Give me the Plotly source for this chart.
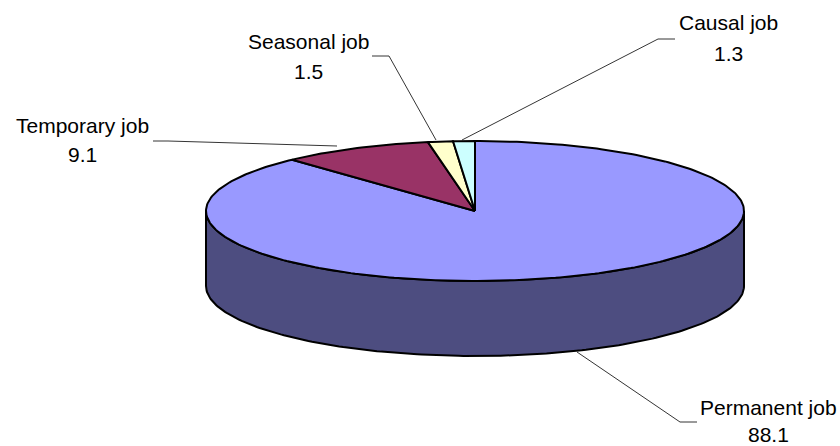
import math
import plotly.graph_objects as go

categories = ["Permanent job", "Temporary job", "Seasonal job", "Causal job"]
values = [88.1, 9.1, 1.5, 1.3]
value_labels = ["88.1", "9.1", "1.5", "1.3"]
colors = ["#9999FF", "#993366", "#FFFFCC", "#CCFFFF"]
side_color = "#4D4D80"

# pie geometry (pixels in an 840x446 canvas)
CX, CY, RX, RY, DEPTH = 475, 211, 269, 70, 75
FONT = dict(family="Liberation Sans, Arial, sans-serif", size=21, color="#000000")

# label placement: text centre x, first line y, second line y
label_x = [768, 82, 308, 728]
label_y1 = [407, 125, 41, 22]
label_y2 = [434, 154, 71, 53]
# leader lines: end beside the text, knee, end on the pie
leader_end = [(697, 422), (153, 141), (372, 56), (675, 39)]
leader_knee = [(680, 422), (168, 141), (389, 56), (658, 39)]
leader_tip = [(577, 352), (337, 146), (436, 140), (462, 140)]


def arc(a0, a1, dy=0.0, step=1.0):
    n = max(2, int(abs(a1 - a0) / step) + 1)
    xs, ys = [], []
    for i in range(n + 1):
        t = math.radians(a0 + (a1 - a0) * i / n)
        xs.append(CX + RX * math.sin(t))
        ys.append(CY - RY * math.cos(t) + dy)
    return xs, ys


fig = go.Figure()

# side wall (front half of the rim)
x1, y1 = arc(90, 270)
x2, y2 = arc(270, 90, dy=DEPTH)
fig.add_trace(go.Scatter(
    x=x1 + x2 + [x1[0]], y=y1 + y2 + [y1[0]], mode="lines", fill="toself",
    fillcolor=side_color, line=dict(color="#000000", width=2), hoverinfo="skip",
))

# top face slices, clockwise from 12 o'clock
total = sum(values)
start = 0.0
for cat, val, col in zip(categories, values, colors):
    end = start + 360.0 * val / total
    xs, ys = arc(start, end)
    fig.add_trace(go.Scatter(
        x=[CX] + xs + [CX], y=[CY] + ys + [CY], mode="lines", fill="toself",
        fillcolor=col, line=dict(color="#000000", width=2),
        name=cat, hoverinfo="name",
    ))
    start = end

# leader lines
for e, k, t in zip(leader_end, leader_knee, leader_tip):
    fig.add_trace(go.Scatter(
        x=[e[0], k[0], t[0]], y=[e[1], k[1], t[1]], mode="lines",
        line=dict(color="#000000", width=0.8), hoverinfo="skip",
    ))

# labels
annotations = []
for cat, vl, x, y1_, y2_ in zip(categories, value_labels, label_x, label_y1, label_y2):
    for txt, y in ((cat, y1_), (vl, y2_)):
        annotations.append(dict(
            x=x, y=y, xref="x", yref="y", text=txt, showarrow=False,
            xanchor="center", yanchor="middle", font=FONT,
        ))

fig.update_layout(
    width=840, height=446, margin=dict(l=0, r=0, t=0, b=0),
    paper_bgcolor="#FFFFFF", plot_bgcolor="#FFFFFF", showlegend=False,
    xaxis=dict(range=[0, 840], visible=False, fixedrange=True),
    yaxis=dict(range=[446, 0], visible=False, fixedrange=True),
    annotations=annotations,
)
fig.write_html(
    "out.html",
    config={"displayModeBar": False},
    post_script="document.body.style.margin='0';document.documentElement.style.overflow='hidden';",
)
